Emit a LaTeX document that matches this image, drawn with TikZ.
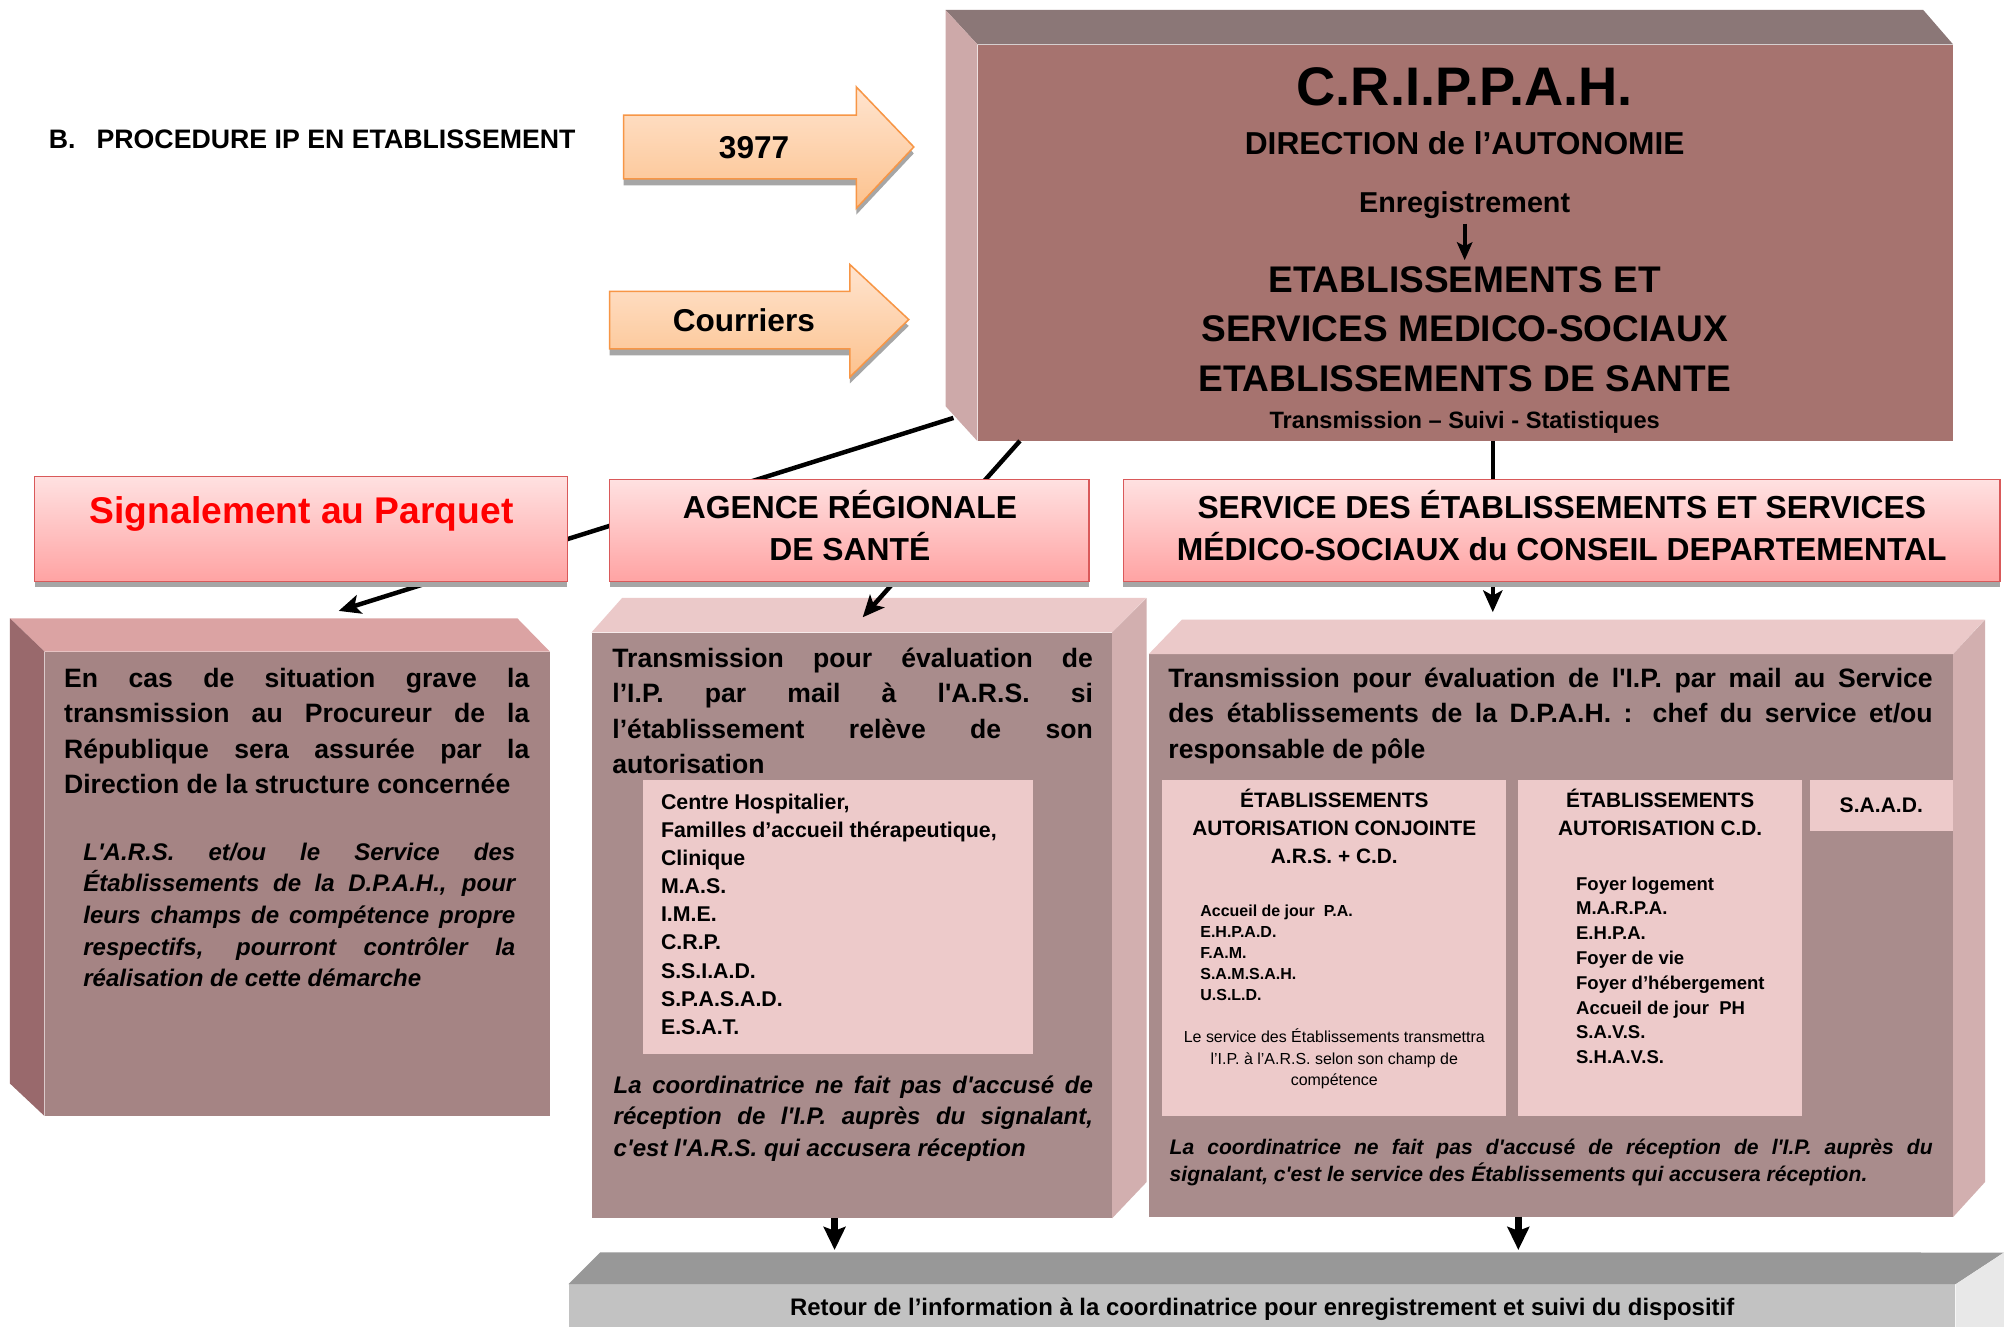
\documentclass[tikz,border=0pt]{standalone}
\usepackage{fontspec}
\setmainfont{Liberation Sans}[Ligatures=TeXOff]
\usetikzlibrary{arrows.meta,shadows}

\definecolor{crfront}{HTML}{A6736F}
\definecolor{crtop}{HTML}{8B7777}
\definecolor{crside}{HTML}{CDA9A9}
\definecolor{grfront}{HTML}{A58484}
\definecolor{grtop}{HTML}{DBA3A3}
\definecolor{grside}{HTML}{99696C}
\definecolor{bxfront}{HTML}{A98C8C}
\definecolor{bxtop}{HTML}{EBC9C9}
\definecolor{bxside}{HTML}{D2AFAF}
\definecolor{inbox}{HTML}{EDCACA}
\definecolor{hdrtop}{HTML}{FFE1E1}
\definecolor{hdrbot}{HTML}{FFA3A3}
\definecolor{hdrline}{HTML}{D9595A}
\definecolor{feedtop}{HTML}{FFE4CF}
\definecolor{feedbot}{HTML}{FCC28E}
\definecolor{feedline}{HTML}{F79646}
\definecolor{rettop}{HTML}{989898}
\definecolor{retfront}{HTML}{C2C2C2}
\definecolor{retside}{HTML}{E8E8E8}
\definecolor{parquet}{HTML}{FF0000}

\newcommand\setfs[2]{\fontsize{#1pt}{#2pt}\selectfont\tolerance=10000\hbadness=10000}

\begin{document}
\begin{tikzpicture}[
  x = 1pt, y = -1pt,
  every node/.style = {inner sep = 0pt},
  hdr/.style = {draw = hdrline, line width = 1.2pt, top color = hdrtop, bottom color = hdrbot,
                drop shadow = {shadow xshift = 0pt, shadow yshift = -4pt, fill = black!35, opacity = 1}},
  feed/.style = {draw = feedline, line width = 1.2pt, top color = feedtop, bottom color = feedbot,
                 drop shadow = {shadow xshift = 0pt, shadow yshift = -5pt, fill = black!35, opacity = 1}},
  hdrtext/.style = {font = \bfseries\setfs{24.9}{33}, align = center, anchor = north},
  para/.style = {font = \bfseries\setfs{20.8}{27.7}, align = justify, anchor = north west},
  note/.style = {font = \bfseries\itshape\setfs{18.8}{24.7}, align = justify, anchor = north west},
  list/.style = {font = \bfseries\setfs{16.7}{22}, align = left, anchor = north west},
  link/.style = {line width = 3.5pt, -{Stealth[length = 17pt, width = 15pt, inset = 4pt]}},
  back/.style = {line width = 5pt, -{Stealth[length = 18pt, width = 17pt, inset = 3pt]}},
  ]
  \path[use as bounding box, fill = white] (0,0) rectangle (1568,1038);

  % title and incoming channels
  \node[anchor = base west, font = \bfseries\setfs{20.9}{25}] (title) at (38,116.5)
    {B.\hspace{16.5pt}PROCEDURE IP EN ETABLISSEMENT};
  \path[feed] (488,90) -- (670,90) -- (670,68) -- (715,115) -- (670,163) -- (670,140) -- (488,140) -- cycle;
  \node[anchor = base, font = \bfseries\setfs{24.7}{30}] (tel) at (590,124) {3977};
  \path[feed] (477,228) -- (665,228) -- (665,207) -- (711,250) -- (665,295) -- (665,273) -- (477,273) -- cycle;
  \node[anchor = base, font = \bfseries\setfs{24.7}{30}] (mail) at (582,259) {Courriers};

  % C.R.I.P.P.A.H.
  \node[fill = crfront, minimum width = 763pt, minimum height = 310pt] (crippah) at (1146.5,190) {};
  \fill[crtop] (crippah.north west) -- ++(-25,-27) -- ++(765,0) -- (crippah.north east) -- cycle;
  \fill[crside] (crippah.north west) -- ++(-25,-27) -- ++(0,310) -- (crippah.south west) -- cycle;
  \node[anchor = base, font = \bfseries\setfs{42.5}{48}] (crname) at (1146,82.5) {C.R.I.P.P.A.H.};
  \node[anchor = base, font = \bfseries\setfs{24.8}{30}] (crdir) at (1146,121) {DIRECTION de l’AUTONOMIE};
  \node[anchor = base, font = \bfseries\setfs{22.5}{27}] (enreg) at (1146,166) {Enregistrement};
  \node[anchor = north, align = center, font = \bfseries\setfs{29}{38.5}] (etab) at (1146,208.6)
    {ETABLISSEMENTS ET\\SERVICES MEDICO-SOCIAUX\\ETABLISSEMENTS DE SANTE};
  \node[anchor = base, font = \bfseries\setfs{18.5}{22}] (suivi) at (1146,335.6) {Transmission – Suivi - Statistiques};
  \draw[line width = 3pt, -{Stealth[length = 14pt, width = 12pt, inset = 3pt]}, shorten < = 4pt, shorten > = 5pt] (enreg) -- (etab);

  % signalement au parquet
  \node[fill = grfront, minimum width = 395pt, minimum height = 363pt] (grave) at (232.5,691.5) {};
  \fill[grtop] (grave.north west) -- ++(-27,-26) -- ++(397,0) -- (grave.north east) -- cycle;
  \fill[grside] (grave.north west) -- ++(-27,-26) -- ++(0,364) -- (grave.south west) -- cycle;
  \node[para, text width = 364pt] (gravetxt) at (50,522.5)
    {En cas de situation grave la\linebreak transmission au Procureur de la\linebreak République sera assurée par la\linebreak Direction de la structure concernée};
  \node[note, text width = 338pt] (gravenote) at (65,659.3)
    {L'A.R.S. et/ou le Service des\linebreak Établissements de la D.P.A.H., pour\linebreak leurs champs de compétence propre\linebreak respectifs, pourront contrôler la\linebreak réalisation de cette démarche};

  % A.R.S.
  \node[fill = bxfront, minimum width = 407pt, minimum height = 458pt] (ars) at (666.5,724) {};
  \fill[bxtop] (ars.north west) -- ++(24,-27) -- ++(410,0) -- (ars.north east) -- cycle;
  \fill[bxside] (ars.north east) -- ++(27,-27) -- ++(0,457) -- (ars.south east) -- cycle;
  \node[para, text width = 376pt] (arstxt) at (479,506.6)
    {Transmission pour évaluation de\linebreak l’I.P. par mail à l'A.R.S. si\linebreak l’établissement relève de son\linebreak autorisation};
  \node[fill = inbox, minimum width = 305pt, minimum height = 215pt] (arslist) at (655.5,717.5) {};
  \node[list] (arsitems) at (517,621)
    {Centre Hospitalier,\\Familles d’accueil thérapeutique,\\Clinique\\M.A.S.\\I.M.E.\\C.R.P.\\S.S.I.A.D.\\S.P.A.S.A.D.\\E.S.A.T.};
  \node[note, text width = 375pt] (arsnote) at (480,841.3)
    {La coordinatrice ne fait pas d'accusé de\linebreak réception de l'I.P. auprès du signalant,\linebreak c'est l'A.R.S. qui accusera réception};

  % conseil departemental
  \node[fill = bxfront, minimum width = 629pt, minimum height = 440pt] (cd) at (1213.5,732) {};
  \fill[bxtop] (cd.north west) -- ++(26,-27) -- ++(628,0) -- (cd.north east) -- cycle;
  \fill[bxside] (cd.north east) -- ++(25,-27) -- ++(0,440) -- (cd.south east) -- cycle;
  \node[para, text width = 598pt] (cdtxt) at (914,522.5)
    {Transmission pour évaluation de l'I.P. par mail au Service\linebreak des établissements de la D.P.A.H. : chef du service et/ou\linebreak responsable de pôle};
  \node[fill = inbox, minimum width = 269pt, minimum height = 263pt] (conj) at (1043.5,741.5) {};
  \node[fill = inbox, minimum width = 222pt, minimum height = 263pt] (cdonly) at (1299,741.5) {};
  \node[fill = inbox, minimum width = 112pt, minimum height = 40pt, font = \bfseries\setfs{16.5}{20}] (saad) at (1472,630) {S.A.A.D.};
  \node[anchor = north, align = center, font = \bfseries\setfs{16.3}{22}] (conjhead) at (1044,616.9)
    {ÉTABLISSEMENTS\\AUTORISATION CONJOINTE\\A.R.S. + C.D.};
  \node[anchor = north west, align = left, font = \bfseries\setfs{12.5}{16.5}] (conjitems) at (939,707.5)
    {Accueil de jour\ \ P.A.\\E.H.P.A.D.\\F.A.M.\\S.A.M.S.A.H.\\U.S.L.D.};
  \node[anchor = north, align = center, font = \setfs{12.5}{16.5}] (conjnote) at (1044,805)
    {Le service des Établissements transmettra\\l’I.P. à l’A.R.S. selon son champ de\\compétence};
  \node[anchor = north, align = center, font = \bfseries\setfs{16.3}{22}] (cdhead) at (1299,616.9)
    {ÉTABLISSEMENTS\\AUTORISATION C.D.};
  \node[anchor = north west, align = left, font = \bfseries\setfs{14.5}{19.4}] (cditems) at (1233,685.8)
    {Foyer logement\\M.A.R.P.A.\\E.H.P.A.\\Foyer de vie\\Foyer d’hébergement\\Accueil de jour\ \ PH\\S.A.V.S.\\S.H.A.V.S.};
  \node[note, text width = 597pt, font = \bfseries\itshape\setfs{16.5}{21}] (cdnote) at (915,891.1)
    {La coordinatrice ne fait pas d'accusé de réception de l'I.P. auprès du\linebreak signalant, c'est le service des Établissements qui accusera réception.};

  % retour
  \node[fill = retfront, minimum width = 1085pt, minimum height = 39pt, font = \bfseries\setfs{18.7}{22}] (ret) at (987.5,1024.5)
    {Retour de l’information à la coordinatrice pour enregistrement et suivi du dispositif};
  \fill[rettop] (ret.north west) -- ++(25,-25) -- (1568,980) -- (ret.north east) -- cycle;
  \fill[retside] (ret.north east) -- (1568,980) -- (1568,1044) -- (ret.south east) -- cycle;

  % connectors
  \coordinate (cr out1) at (746,327);
  \coordinate (cr out2) at (798,345);
  \coordinate (cr out3) at (1168,345);
  \coordinate (grave in) at (265,478);
  \coordinate (ars in) at (675,483);
  \coordinate (cd in) at (1168,479);
  \coordinate (ars out) at (653,953);
  \coordinate (cd out) at (1188,952);
  \coordinate (ret in1) at (653,978);
  \coordinate (ret in2) at (1188,978);
  \draw[link] (cr out1) -- (grave in);
  \draw[link] (cr out2) -- (ars in);
  \draw[link] (cr out3) -- (cd in);
  \draw[back] (ars out) -- (ret in1);
  \draw[back] (cd out) -- (ret in2);

  % headers
  \node[hdr, minimum width = 417pt, minimum height = 82pt] (sig) at (235.5,414) {};
  \node[anchor = base, text = parquet, font = \bfseries\setfs{29.1}{34}] (sigtxt) at (236,409.4) {Signalement au Parquet};
  \node[hdr, minimum width = 375pt, minimum height = 80pt] (arshdr) at (664.5,415) {};
  \node[hdrtext] (arsname) at (665,383.4) {AGENCE RÉGIONALE\\DE SANTÉ};
  \node[hdr, minimum width = 686pt, minimum height = 80pt] (cdhdr) at (1222,415) {};
  \node[hdrtext] (cdname) at (1222,383.4) {SERVICE DES ÉTABLISSEMENTS ET SERVICES\\MÉDICO-SOCIAUX du CONSEIL DEPARTEMENTAL};
\end{tikzpicture}
\end{document}
